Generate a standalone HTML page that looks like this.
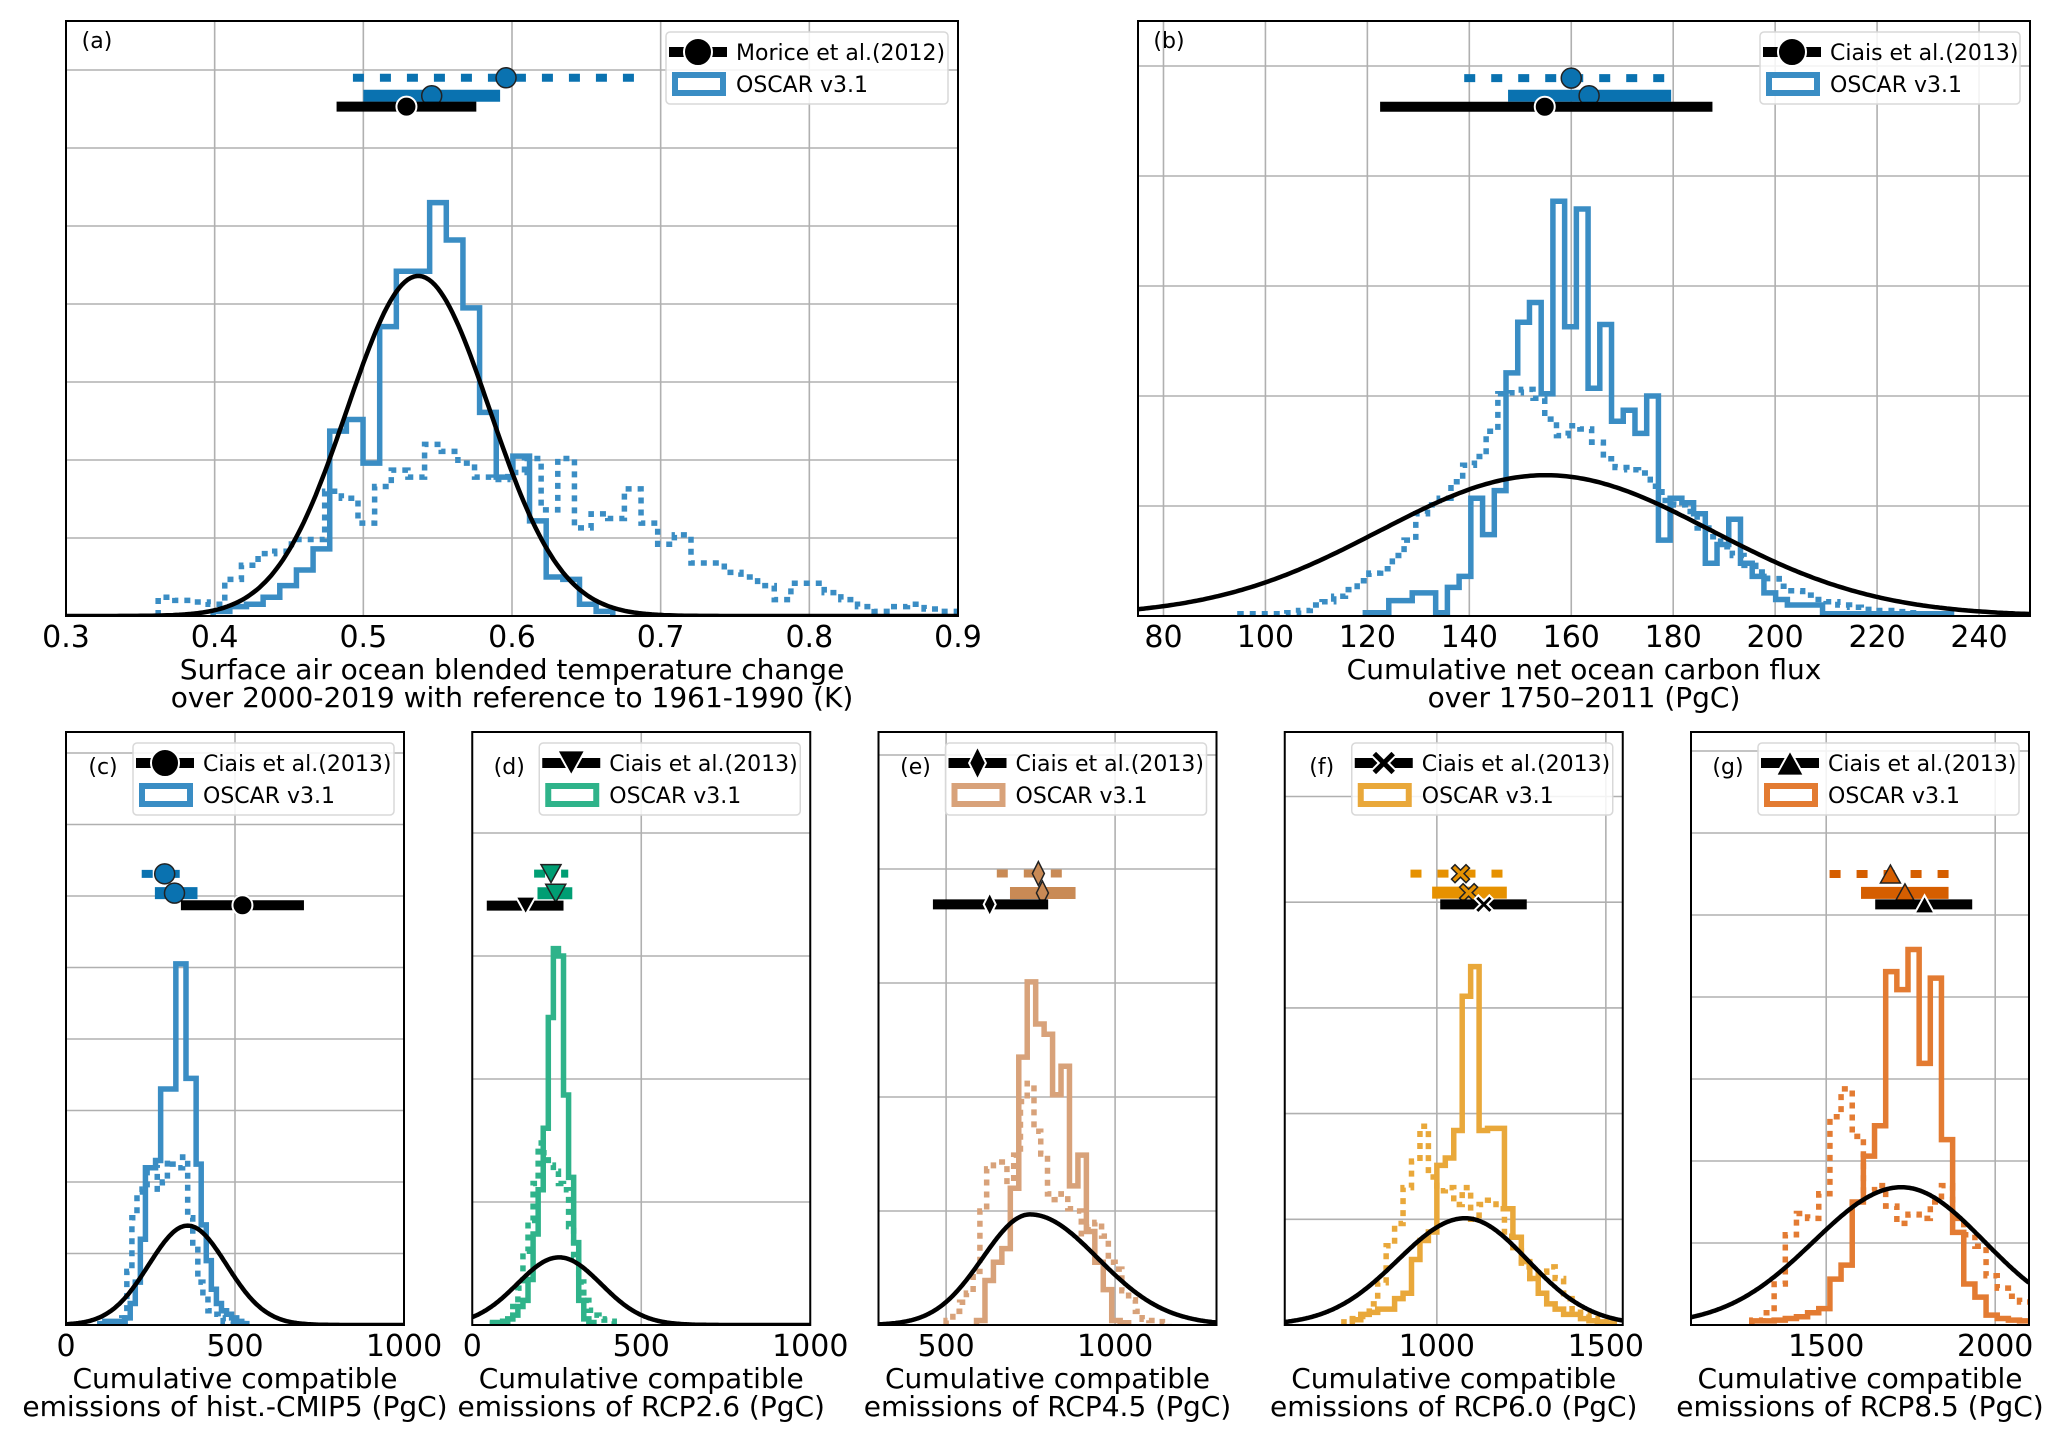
<!DOCTYPE html>
<html><head><meta charset="utf-8"><style>
html,body{margin:0;padding:0;background:#fff;}
svg{display:block;font-family:"DejaVu Sans","Liberation Sans",sans-serif;}
</style></head><body>
<svg id="fig" width="2067" height="1448" viewBox="0 0 2067 1448" xmlns="http://www.w3.org/2000/svg"></svg>
<script>
// ---------- DATA (histogram heights in y-grid units) ----------
const aXTicks=[0.3,0.4,0.5,0.6,0.7,0.8,0.9];
const aSolidBins=[0.399,0.0112];
const aSolid=[0.06,0.12,0.15,0.24,0.39,0.59,0.86,2.37,2.52,1.96,3.71,4.42,4.42,5.30,4.82,3.95,2.61,1.78,2.05,1.22,0.50,0.47,0.15,0.06];
const aDottedBins=[0.362,0.0112];
const aDotted=[0.24,0.2,0.18,0.15,0.47,0.65,0.80,0.83,0.98,0.98,1.60,1.51,1.19,1.66,1.87,1.78,2.20,2.11,1.96,1.78,1.75,1.84,2.02,1.36,2.02,1.13,1.31,1.25,1.63,1.19,0.92,1.04,0.68,0.68,0.56,0.50,0.39,0.21,0.42,0.42,0.30,0.21,0.12,0.06,0.12,0.15,0.09,0.06];
const aFit=[0.537,0.048,0.048,4.36];
const aBarsLo=[0.493,0.5,0.482], aBarsHi=[0.690,0.592,0.576], aBarsMid=[0.596,0.546,0.529], aBarsLevel=[6.9,6.67,6.53];

const bXTicks=[80,100,120,140,160,180,200,220,240];
const bSolidBins=[119.6,2.3];
const bSolid=[0.03,0.03,0.14,0.14,0.21,0.21,0.03,0.26,0.36,1.07,0.74,1.14,2.21,2.67,2.85,2.02,3.77,2.63,3.70,2.07,2.65,1.77,1.87,1.66,2.0,0.69,1.07,1.03,0.93,0.48,0.65,0.88,0.48,0.36,0.21,0.15,0.1,0.1,0.1,0.02,0.02,0.02,0.02,0.02,0.02,0.02,0.02,0.02,0.02,0.02];
const bDottedBins=[95,2.3];
const bDotted=[0.02,0.02,0.02,0.02,0.03,0.05,0.1,0.13,0.18,0.24,0.32,0.39,0.43,0.55,0.69,0.93,1.01,1.07,1.22,1.37,1.45,1.68,2.02,2.03,2.06,1.98,1.79,1.64,1.73,1.70,1.58,1.43,1.35,1.33,1.30,1.18,1.05,1.01,0.95,0.80,0.72,0.63,0.55,0.46,0.40,0.34,0.27,0.23,0.19,0.15,0.13,0.10,0.08,0.06,0.05,0.05,0.04,0.03,0.02,0.02];
const bFit=[155,32.5,32.5,1.28];
const bBarsLo=[139,147.6,122.5], bBarsHi=[179.6,179.6,187.7], bBarsMid=[160,163.5,154.8], bBarsLevel=[4.89,4.73,4.63];

const cXTicks=[0,500,1000];
const cSolidBins=[100,15];
const cSolid=[0.02,0.05,0.05,0.05,0.05,0.1,0.3,0.6,1.2,2.2,2.2,2.3,3.3,3.3,3.3,5.05,5.05,3.45,3.45,2.25,1.4,0.9,0.5,0.3,0.2,0.15,0.1,0.05,0.02];
const cDottedBins=[150,15];
const cDotted=[0.02,0.1,0.75,1.5,1.86,1.9,2.18,2.2,1.9,2.0,2.3,2.25,2.2,2.35,1.5,1.1,0.6,0.4,0.2,0.15,0.1,0.05,0.05,0.03,0.02];
const cFit=[360,115,115,1.39];
const cBarsLo=[224,263,340], cBarsHi=[340,389,704], cBarsMid=[292,321,522], cBarsLevel=[6.31,6.04,5.87];

const dXTicks=[0,500,1000];
const dSolidBins=[60,15];
const dSolid=[0.02,0.02,0.03,0.05,0.08,0.15,0.2,0.37,0.74,1.1,1.6,2.5,3.06,3.0,1.87,1.2,0.67,0.2,0.05,0.02];
const dDottedBins=[60,15];
const dDotted=[0.01,0.02,0.03,0.05,0.15,0.3,0.6,0.85,1.15,1.48,1.4,1.3,1.25,1.15,1.1,0.8,0.55,0.35,0.2,0.12,0.08,0.05,0.04,0.03];
const dFit=[257,124,124,0.55];
const dBarsLo=[183,193,43], dBarsHi=[284,296,270], dBarsMid=[233,247,158], dBarsLevel=[3.67,3.51,3.41];

const eXTicks=[500,1000];
const eSolidBins=[590,25];
const eSolid=[0.04,0.39,0.55,0.67,1.2,2.35,3.01,2.64,2.55,2.02,2.27,1.22,1.49,0.82,0.55,0.31,0.04,0.02];
const eDottedBins=[500,20];
const eDotted=[0.04,0.12,0.2,0.28,0.47,1.0,1.37,1.43,1.43,1.2,1.49,1.96,2.12,1.7,1.5,1.15,1.1,1.15,1.02,1.0,0.8,0.86,0.9,0.78,0.55,0.49,0.3,0.22,0.12,0.05,0.04,0.03,0.02];
const eFit=[748,140,200,0.97];
const eBarsLo=[650,689,461], eBarsHi=[849,883,802], eBarsMid=[773,785,629], eBarsLevel=[3.96,3.79,3.69];

const fXTicks=[1000,1500];
const fSolidBins=[750,25];
const fSolid=[0.05,0.1,0.12,0.15,0.15,0.25,0.3,0.62,0.8,0.88,1.51,1.58,1.84,3.11,3.39,1.84,1.86,1.86,1.1,0.83,0.6,0.44,0.3,0.2,0.15,0.1,0.1,0.06,0.04,0.03,0.02];
const fDottedBins=[725,25];
const fDotted=[0.03,0.06,0.08,0.2,0.4,0.75,0.96,1.3,1.55,1.88,1.4,1.27,1.3,1.14,1.3,1.0,1.14,1.18,1.1,0.84,0.7,0.55,0.44,0.5,0.55,0.44,0.25,0.15,0.1,0.06,0.03,0.02];
const fFit=[1084,200,185,1.01];
const fBarsLo=[922,986,1010], fBarsHi=[1211,1207,1266], fBarsMid=[1070,1094,1139], fBarsLevel=[4.27,4.09,3.98];

const gXTicks=[1500,2000];
const gSolidBins=[1280,33];
const gSolid=[0.05,0.05,0.06,0.08,0.1,0.15,0.2,0.56,0.73,1.5,2.06,2.43,4.31,4.09,4.58,3.19,4.23,2.26,1.13,0.5,0.34,0.12,0.08,0.06,0.05];
const gDottedBins=[1280,33];
const gDotted=[0.06,0.15,0.5,1.1,1.36,1.3,1.6,2.54,2.88,2.3,1.64,1.7,1.45,1.24,1.35,1.3,1.5,1.7,1.3,1.1,0.96,0.6,0.45,0.35,0.28];
const gFit=[1723,260,245,1.68];
const gBarsLo=[1510,1603,1645], gBarsHi=[1874,1862,1932], gBarsMid=[1690,1733,1791], gBarsLevel=[5.5,5.27,5.13];

// ---------- LAYOUT ----------
const BL=66, BW=338, PITCH=406.25;
const panels=[
 {id:'a',x0:66,x1:958,y0:21,y1:616,xmin:0.3,xmax:0.9,grid:78,ticks:aXTicks,fmt:v=>v.toFixed(1),hist:'#3a8dc4',bar:'#0a72b0',mk:'o',legW:282,obs:'Morice et al.(2012)',sb:aSolidBins,s:aSolid,db:aDottedBins,d:aDotted,fit:aFit,lo:aBarsLo,hi:aBarsHi,mid:aBarsMid,lev:aBarsLevel,xl:['Surface air ocean blended temperature change','over 2000-2019 with reference to 1961-1990 (K)'],lab:[31,27]},
 {id:'b',x0:1138,x1:2030,y0:21,y1:616,xmin:75,xmax:250,grid:110,ticks:bXTicks,fmt:v=>String(v),hist:'#3a8dc4',bar:'#0a72b0',mk:'o',legW:260,obs:'Ciais et al.(2013)',sb:bSolidBins,s:bSolid,db:bDottedBins,d:bDotted,fit:bFit,lo:bBarsLo,hi:bBarsHi,mid:bBarsMid,lev:bBarsLevel,xl:['Cumulative net ocean carbon flux','over 1750\u20132011 (PgC)'],lab:[31,27]}
];
const bottomDefs=[
 ['c',0,1000,71.5,cXTicks,'#3a8dc4','#0a72b0','o',cSolidBins,cSolid,cDottedBins,cDotted,cFit,cBarsLo,cBarsHi,cBarsMid,cBarsLevel,'hist.-CMIP5'],
 ['d',0,1000,123,dXTicks,'#2fb38a','#009e73','v',dSolidBins,dSolid,dDottedBins,dDotted,dFit,dBarsLo,dBarsHi,dBarsMid,dBarsLevel,'RCP2.6'],
 ['e',300,1300,114,eXTicks,'#d8a27a','#c98a55','d',eSolidBins,eSolid,eDottedBins,eDotted,eFit,eBarsLo,eBarsHi,eBarsMid,eBarsLevel,'RCP4.5'],
 ['f',550,1550,105.7,fXTicks,'#e9a83a','#e69100','x',fSolidBins,fSolid,fDottedBins,fDotted,fFit,fBarsLo,fBarsHi,fBarsMid,fBarsLevel,'RCP6.0'],
 ['g',1100,2100,82,gXTicks,'#e37b32','#d55e00','^',gSolidBins,gSolid,gDottedBins,gDotted,gFit,gBarsLo,gBarsHi,gBarsMid,gBarsLevel,'RCP8.5']
];
bottomDefs.forEach((b,i)=>{
 panels.push({id:b[0],x0:BL+PITCH*i,x1:BL+PITCH*i+BW,y0:732,y1:1325,xmin:b[1],xmax:b[2],grid:b[3],ticks:b[4],fmt:v=>String(v),hist:b[5],bar:b[6],mk:b[7],legW:261,obs:'Ciais et al.(2013)',sb:b[8],s:b[9],db:b[10],d:b[11],fit:b[12],lo:b[13],hi:b[14],mid:b[15],lev:b[16],xl:['Cumulative compatible','emissions of '+b[17]+' (PgC)'],lab:[37,42]});
});

const NS='http://www.w3.org/2000/svg';
const svg=document.getElementById('fig');
function mk(tag,attrs,parent){const e=document.createElementNS(NS,tag);for(const k in attrs)e.setAttribute(k,attrs[k]);(parent||svg).appendChild(e);return e;}

function markerShape(g,type,cx,cy,s,fill,stroke,sw){
 let e;
 if(type==='o'){e=mk('circle',{cx:cx,cy:cy,r:s,fill:fill,stroke:stroke,'stroke-width':sw},g);}
 else if(type==='v'){e=mk('polygon',{points:`${cx-s},${cy-s*0.9} ${cx+s},${cy-s*0.9} ${cx},${cy+s*0.9}`,fill:fill,stroke:stroke,'stroke-width':sw},g);}
 else if(type==='^'){e=mk('polygon',{points:`${cx-s},${cy+s*0.9} ${cx+s},${cy+s*0.9} ${cx},${cy-s*0.9}`,fill:fill,stroke:stroke,'stroke-width':sw},g);}
 else if(type==='d'){e=mk('polygon',{points:`${cx},${cy-s*1.2} ${cx+s*0.6},${cy} ${cx},${cy+s*1.2} ${cx-s*0.6},${cy}`,fill:fill,stroke:stroke,'stroke-width':sw},g);}
 else {const r=s*0.9,w=s*0.35;
  e=mk('path',{d:`M${cx-r},${cy-r+w}L${cx-r+w},${cy-r}L${cx},${cy-w}L${cx+r-w},${cy-r}L${cx+r},${cy-r+w}L${cx+w},${cy}L${cx+r},${cy+r-w}L${cx+r-w},${cy+r}L${cx},${cy+w}L${cx-r+w},${cy+r}L${cx-r},${cy+r-w}L${cx-w},${cy}Z`,fill:fill,stroke:stroke,'stroke-width':sw},g);}
 return e;
}

panels.forEach(p=>{
 const X=v=>p.x0+(v-p.xmin)/(p.xmax-p.xmin)*(p.x1-p.x0);
 const Y=u=>p.y1-u*p.grid;
 const g=mk('g',{});
 
 
 const cid='clip'+p.id;
 const cp=mk('clipPath',{id:cid},g);mk('rect',{x:p.x0,y:p.y0,width:p.x1-p.x0,height:p.y1-p.y0},cp);
 for(let k=1;p.y1-k*p.grid>p.y0+1;k++){const l=mk('line',{x1:p.x0,x2:p.x1,y1:Y(k),y2:Y(k),stroke:'#b0b0b0','stroke-width':1.6},g);}
 p.ticks.forEach(t=>{
  const l=mk('line',{x1:X(t),x2:X(t),y1:p.y0,y2:p.y1,stroke:'#b0b0b0','stroke-width':1.6},g);
  
  const tx=mk('text',{x:X(t),y:p.y1+31,'font-size':30,'text-anchor':'middle',fill:'#000'},g);tx.textContent=p.fmt(t);
  
 });
 const cg=mk('g',{'clip-path':`url(#${cid})`},g);
 function step(bins,vals,dash,name){
  let d=`M${X(bins[0])},${Y(0)}`;
  vals.forEach((h,i)=>{const xa=X(bins[0]+i*bins[1]),xb=X(bins[0]+(i+1)*bins[1]);d+=`L${xa},${Y(h)}L${xb},${Y(h)}`;});
  d+=`L${X(bins[0]+vals.length*bins[1])},${Y(0)}`;
  const e=mk('path',{d:d,fill:'none',stroke:p.hist,'stroke-width':5.5,'stroke-dasharray':dash||'none','stroke-linejoin':'miter'},cg);
  
 }
 step(p.db,p.d,'6 6','dotted-histogram');
 step(p.sb,p.s,null,'solid-histogram');
 let pts=[];const f=p.fit;
 for(let i=0;i<=300;i++){const v=p.xmin+(p.xmax-p.xmin)*i/300;const s=v<f[0]?f[1]:f[2];pts.push(`${X(v).toFixed(1)},${Y(f[3]*Math.exp(-(v-f[0])*(v-f[0])/(2*s*s))).toFixed(1)}`);}
 const fc=mk('polyline',{points:pts.join(' '),fill:'none',stroke:'#000','stroke-width':4.5},cg);
 
 const widths=[8,12,10], cols=[p.bar,p.bar,'#000'];
 [0,1,2].forEach(i=>{
  const l=mk('line',{x1:X(p.lo[i]),x2:X(p.hi[i]),y1:Y(p.lev[i]),y2:Y(p.lev[i]),stroke:cols[i],'stroke-width':widths[i],'stroke-dasharray':i===0?'11 16':'none'},cg);
  
  const m=markerShape(cg,p.mk,X(p.mid[i]),Y(p.lev[i]),10,i===2?'#000':p.bar,i===2?'#fff':'#222',i===2?2:1.5);
  
 });
 const fr=mk('rect',{x:p.x0,y:p.y0,width:p.x1-p.x0,height:p.y1-p.y0,fill:'none',stroke:'#000','stroke-width':2},g);
 
 const lb=mk('text',{x:p.x0+p.lab[0],y:p.y0+p.lab[1],'font-size':22,'text-anchor':'middle'},g);lb.textContent='('+p.id+')';
 
 p.xl.forEach((t,i)=>{const tx=mk('text',{x:(p.x0+p.x1)/2,y:p.y1+63+i*28,'font-size':28,'text-anchor':'middle'},g);tx.textContent=t;
  });
 const lx=p.x1-10-p.legW, ly=p.y0+11;
 const lg=mk('g',{},g);
 mk('rect',{x:lx,y:ly,width:p.legW,height:72,rx:4,fill:'#fff','fill-opacity':0.85,stroke:'#d8d8d8','stroke-width':1.5},lg);
 const e1=mk('g',{},lg);
 mk('line',{x1:lx+3,x2:lx+61,y1:ly+20,y2:ly+20,stroke:'#000','stroke-width':10},e1);
 markerShape(e1,p.mk,lx+32,ly+20,14,'#000','#fff',2);
 const t1=mk('text',{x:lx+70,y:ly+28,'font-size':22},e1);t1.textContent=p.obs;
 const e2=mk('g',{},lg);
 mk('rect',{x:lx+9,y:ly+43,width:48,height:18,fill:'#fff',stroke:p.hist,'stroke-width':6},e2);
 const t2=mk('text',{x:lx+70,y:ly+60,'font-size':22},e2);t2.textContent='OSCAR v3.1';
});
</script>
</body></html>
